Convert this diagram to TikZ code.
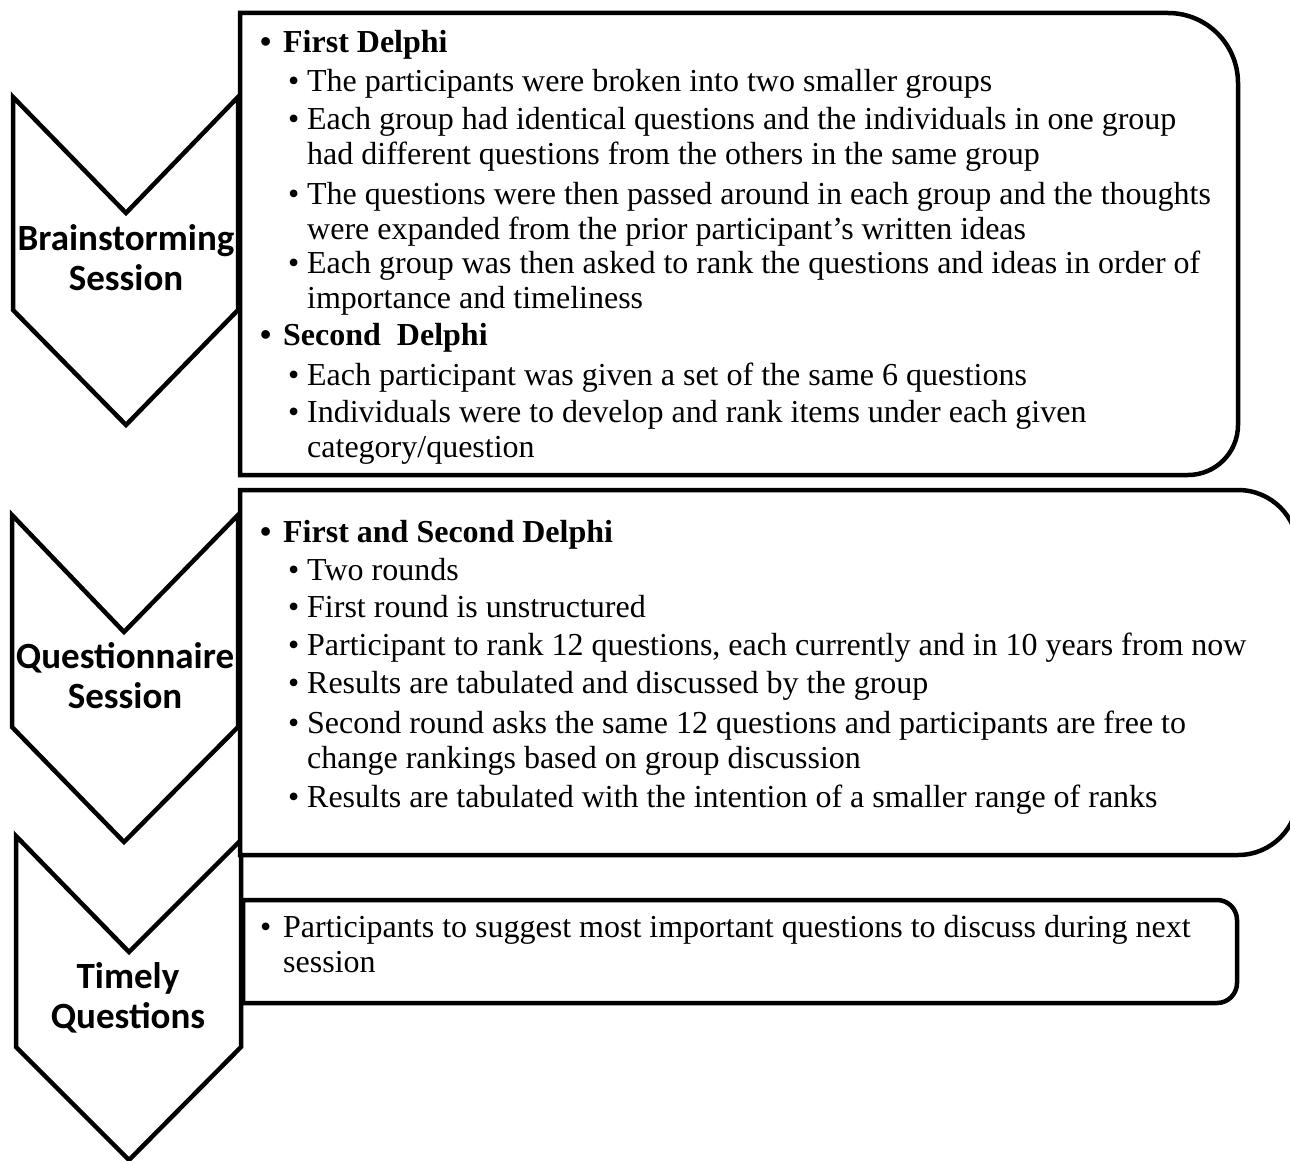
\documentclass[tikz,border=0pt]{standalone}
\usepackage{fontspec}
\setmainfont{Liberation Serif}
\newfontfamily\labelfont{Carlito}

\tikzset{
	chevron/.style={draw, line width=4.5pt, fill=white, line join=miter},
	panel/.style={draw, line width=4.5pt, fill=white},
	stage/.style={font=\labelfont\bfseries\fontsize{37}{40}\selectfont, align=center, anchor=base, inner sep=0pt},
	head/.style={font=\fontsize{32}{35}\selectfont\bfseries, align=left, anchor=base west, inner sep=0pt},
	point/.style={font=\fontsize{32}{35}\selectfont, align=left, anchor=base west, inner sep=0pt},
}
\newcommand{\headbullet}{\llap{\textbullet\hspace{12pt}}}
\newcommand{\subbullet}{\llap{\textbullet\hspace{8pt}}}

\begin{document}
\begin{tikzpicture}[x=1pt, y=-1pt]
	\useasboundingbox (0,0) rectangle (1290,1161);
	\def\headx{283}
	\def\subx{307}

	% the three stages
	\draw[chevron] (13,97) -- (126,213) -- (238,97) -- (238,310) -- (126,425) -- (13,310) -- cycle;
	\draw[chevron] (12,515) -- (124,632) -- (238,515) -- (238,727) -- (124,842) -- (12,727) -- cycle;
	\draw[chevron] (16,836) -- (129,952) -- (241,840) -- (241,1047) -- (129,1160) -- (16,1047) -- cycle;

	% panels
	\draw[panel] (240,13) -- (1168,13) arc[start angle=-90, end angle=0, radius=70] -- (1238,425) arc[start angle=0, end angle=90, radius=50] -- (240,475) -- cycle;
	\draw[panel] (240,490) -- (1238,490) arc[start angle=-90, end angle=0, radius=60] -- (1298,795) arc[start angle=0, end angle=90, radius=60] -- (240,855) -- cycle;
	\draw[panel] (243,900) -- (1217,900) arc[start angle=-90, end angle=0, radius=20] -- (1237,983) arc[start angle=0, end angle=90, radius=20] -- (243,1003) -- cycle;

	% labels sit on the baseline of their last line
	\node[stage] (brain) at (126,290) {Brainstorming\\Session};
	\node[stage] (quest) at (125,708) {Questionnaire\\Session};
	\node[stage] (timely) at (128,1028) {Timely\\Questions};

	% brainstorming
	\node[head] (fd) at (\headx,53) {\headbullet First Delphi};
	\node[point] (fd1) at (\subx,92) {\subbullet The participants were broken into two smaller groups};
	\node[point] (fd2) at (\subx,165) {\subbullet Each group had identical questions and the individuals in one group\\had different questions from the others in the same group};
	\node[point] (fd3) at (\subx,239) {\subbullet The questions were then passed around in each group and the thoughts\\were expanded from the prior participant’s written ideas};
	\node[point] (fd4) at (\subx,308) {\subbullet Each group was then asked to rank the questions and ideas in order of\\importance and timeliness};
	\node[head] (sd) at (\headx,345) {\headbullet Second\ \ Delphi};
	\node[point] (sd1) at (\subx,385) {\subbullet Each participant was given a set of the same 6 questions};
	\node[point] (sd2) at (\subx,457) {\subbullet Individuals were to develop and rank items under each given\\category/question};

	% questionnaire
	\node[head] (both) at (\headx,542) {\headbullet First and Second Delphi};
	\node[point] (both1) at (\subx,580) {\subbullet Two rounds};
	\node[point] (both2) at (\subx,617) {\subbullet First round is unstructured};
	\node[point] (both3) at (\subx,655) {\subbullet Participant to rank 12 questions, each currently and in 10 years from now};
	\node[point] (both4) at (\subx,693) {\subbullet Results are tabulated and discussed by the group};
	\node[point] (both5) at (\subx,768) {\subbullet Second round asks the same 12 questions and participants are free to\\change rankings based on group discussion};
	\node[point] (both6) at (\subx,807) {\subbullet Results are tabulated with the intention of a smaller range of ranks};

	% timely questions
	\node[point] (next) at (\headx,972) {\headbullet Participants to suggest most important questions to discuss during next\\session};
\end{tikzpicture}
\end{document}
